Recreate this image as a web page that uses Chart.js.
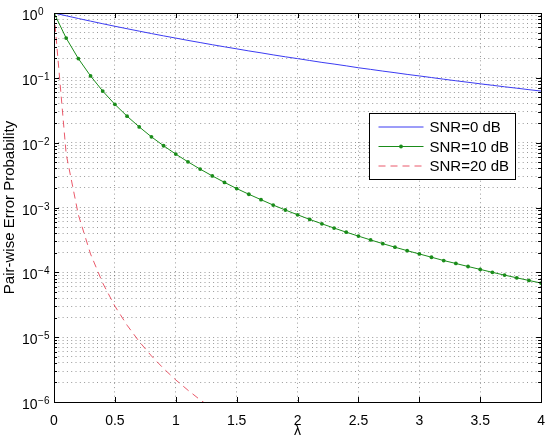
<!DOCTYPE html>
<html><head><meta charset="utf-8">
<script src="https://cdn.jsdelivr.net/npm/chart.js@4/dist/chart.umd.min.js"></script>
<style>html,body{margin:0;padding:0;background:#fff}#wrap{width:556px;height:440px}</style>
</head><body><div id="wrap"><canvas id="c" width="556" height="440"></canvas></div>
<script>
// lambda values (x)
const lambda = [0,0.1,0.2,0.3,0.4,0.5,0.6,0.7,0.8,0.9,1.0,1.1,1.2,1.3,1.4,1.5,1.6,1.7,1.8,1.9,2.0,
  2.1,2.2,2.3,2.4,2.5,2.6,2.7,2.8,2.9,3.0,3.1,3.2,3.3,3.4,3.5,3.6,3.7,3.8,3.9,4.0];
// SNR = 0 dB
const snr0 = [1,0.906,0.823,0.749,0.683,0.624,0.572,0.525,0.482,0.444,0.410,0.378,0.350,0.324,0.301,0.280,
  0.260,0.243,0.226,0.211,0.198,0.185,0.173,0.163,0.153,0.143,0.135,0.127,0.120,0.113,0.107,0.101,
  0.0953,0.0901,0.0854,0.0809,0.0767,0.0728,0.0692,0.0657,0.0625];
// SNR = 10 dB
const snr10 = [1,0.410,0.198,0.107,0.0625,0.0390,0.0256,0.0175,0.0123,0.00896,0.00666,0.00506,0.00391,
  0.00307,0.00244,0.00196,0.00160,0.00132,0.00109,0.000915,0.000772,0.000655,0.000560,0.000482,0.000416,
  0.000362,0.000316,0.000277,0.000244,0.000216,0.000192,0.000171,0.000152,0.000137,0.000123,0.000111,
  0.000100,0.0000906,0.0000823,0.0000749,0.0000683];
// SNR = 20 dB (visible part, continues below 1e-6)
const snr20 = [1,0.00666,0.000772,0.000192,0.0000683,0.0000301,0.0000153,0.00000854,0.00000514,
  0.00000328,0.00000219,0.00000152,0.00000108,0.000000794];
const seriesLabels = ['SNR=0 dB','SNR=10 dB','SNR=20 dB'];
const xTickValues = [0,0.5,1,1.5,2,2.5,3,3.5,4];
const xTickLabels = ['0','0.5','1','1.5','2','2.5','3','3.5','4'];
const yTickValues = [1e-6,1e-5,1e-4,1e-3,1e-2,1e-1,1];
const yTickBase = '10';
const yTickExps = ['\u22126','\u22125','\u22124','\u22123','\u22122','\u22121','0'];

const pts = (ys) => ys.map((y, i) => ({x: lambda[i], y: y}));
const FONT = 'Liberation Sans, Arial, Helvetica, sans-serif';

const yGridValues = [];
for (let e = -6; e <= 0; e++) {
  for (let m = 1; m <= 9; m++) {
    const v = m * Math.pow(10, e);
    if (v <= 1.0000001) yGridValues.push(v);
  }
}

const boxPlugin = {
  id: 'boxTicks',
  afterDatasetsDraw(chart) {
    const {ctx, chartArea: a, scales} = chart;
    ctx.save();
    ctx.strokeStyle = '#000';
    ctx.lineWidth = 1;
    ctx.beginPath();
    xTickValues.forEach(v => {
      const x = Math.round(scales.x.getPixelForValue(v)) + 0.5;
      ctx.moveTo(x, a.bottom); ctx.lineTo(x, a.bottom - 5);
      ctx.moveTo(x, a.top); ctx.lineTo(x, a.top + 5);
    });
    yGridValues.forEach(v => {
      const y = Math.round(scales.y.getPixelForValue(v)) + 0.5;
      const major = Math.abs(Math.log10(v) - Math.round(Math.log10(v))) < 1e-9;
      const len = major ? 5 : 3;
      ctx.moveTo(a.left, y); ctx.lineTo(a.left + len, y);
      ctx.moveTo(a.right, y); ctx.lineTo(a.right - len, y);
    });
    ctx.stroke();
    ctx.strokeRect(Math.round(a.left) + 0.5, Math.round(a.top) + 0.5,
      Math.round(a.right - a.left), Math.round(a.bottom - a.top));
    // y tick labels with superscript exponents
    ctx.fillStyle = '#000';
    ctx.textAlign = 'left';
    ctx.textBaseline = 'alphabetic';
    yTickValues.forEach((v, i) => {
      const y = scales.y.getPixelForValue(v);
      ctx.font = '14px ' + FONT;
      const x0 = 22;
      ctx.fillText(yTickBase, x0, y + 7);
      const w = ctx.measureText(yTickBase).width;
      ctx.font = '10px ' + FONT;
      ctx.fillText(yTickExps[i], x0 + w + 0.5, y + 2);
    });
    ctx.restore();
  }
};

const legendPlugin = {
  id: 'insideLegend',
  afterDraw(chart) {
    const {ctx, chartArea: a} = chart;
    const w = 146, h = 66;
    const x0 = Math.round(a.right - 26 - w) + 0.5;
    const y0 = Math.round(a.top + 100) + 0.5;
    ctx.save();
    ctx.fillStyle = '#fff';
    ctx.fillRect(x0, y0, w, h);
    ctx.strokeStyle = '#000';
    ctx.lineWidth = 1;
    ctx.strokeRect(x0, y0, w, h);
    ctx.font = '15px ' + FONT;
    ctx.textBaseline = 'middle';
    ctx.textAlign = 'left';
    chart.data.datasets.forEach((ds, i) => {
      const yy = y0 + 13.5 + i * 19.5;
      ctx.strokeStyle = ds.borderColor;
      ctx.lineWidth = ds.borderWidth;
      ctx.setLineDash(ds.borderDash || []);
      ctx.beginPath();
      ctx.moveTo(x0 + 9, yy); ctx.lineTo(x0 + 54, yy);
      ctx.stroke();
      ctx.setLineDash([]);
      if (ds.pointRadius > 0) {
        ctx.fillStyle = ds.pointBackgroundColor;
        ctx.beginPath();
        ctx.arc(x0 + 31.5, yy, ds.pointRadius, 0, Math.PI * 2);
        ctx.fill();
      }
      ctx.fillStyle = '#000';
      ctx.fillText(ds.label, x0 + 60, yy + 1);
    });
    ctx.restore();
  }
};

new Chart(document.getElementById('c'), {
  type: 'line',
  data: {
    datasets: [
      {label: seriesLabels[0], data: pts(snr0), borderColor: '#3b3bf2', borderWidth: 1,
       pointRadius: 0, tension: 0, fill: false},
      {label: seriesLabels[1], data: pts(snr10), borderColor: '#1a8c1a', borderWidth: 1,
       pointRadius: 1.9, pointBackgroundColor: '#1a8c1a', pointBorderWidth: 0, tension: 0, fill: false},
      {label: seriesLabels[2], data: pts(snr20), borderColor: 'rgba(230,60,80,0.85)', borderWidth: 1,
       borderDash: [7, 5], pointRadius: 0, tension: 0, fill: false}
    ]
  },
  options: {
    responsive: false,
    devicePixelRatio: 1,
    animation: false,
    layout: {padding: {top: 13, right: 8, left: 0, bottom: 0}},
    plugins: {legend: {display: false}, tooltip: {enabled: false}},
    scales: {
      x: {
        type: 'linear', min: 0, max: 4,
        afterBuildTicks: (s) => { s.ticks = xTickValues.map(v => ({value: v})); },
        afterFit: (s) => { s.height = 38; },
        ticks: {
          autoSkip: false, maxRotation: 0, padding: 11, color: '#000',
          font: {family: FONT, size: 14},
          callback: (v) => { const i = xTickValues.indexOf(v); return i >= 0 ? xTickLabels[i] : ''; }
        },
        grid: {color: 'rgba(0,0,0,0.4)', lineWidth: 1, drawTicks: false},
        border: {display: false, dash: [1, 3.3]},
        title: {display: true, text: 'λ', color: '#000', font: {family: FONT, size: 14}, padding: {top: 0, bottom: 0}}
      },
      y: {
        type: 'logarithmic', min: 1e-6, max: 1,
        afterBuildTicks: (s) => { s.ticks = yGridValues.map(v => ({value: v})); },
        afterFit: (s) => { s.width = 54; },
        ticks: {display: false},
        grid: {color: 'rgba(0,0,0,0.4)', lineWidth: 1, drawTicks: false},
        border: {display: false, dash: [1, 3.3]},
        title: {display: true, text: 'Pair-wise Error Probability', color: '#000',
          font: {family: FONT, size: 15}, padding: {top: 1, bottom: 0}}
      }
    }
  },
  plugins: [boxPlugin, legendPlugin]
});
</script>
</body></html>
